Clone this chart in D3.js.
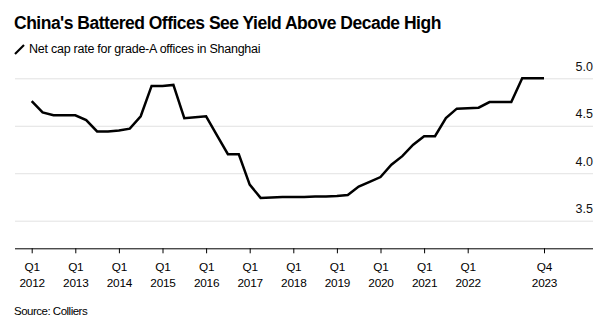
<!DOCTYPE html>
<html>
<head>
<meta charset="utf-8">
<script src="https://cdn.jsdelivr.net/npm/d3@7"></script>
<style>
  html, body { margin: 0; padding: 0; background: #fff; }
  text { font-family: "Liberation Sans", Arial, sans-serif; }
</style>
</head>
<body>
<svg id="chart" width="606" height="335"></svg>
<script>
const quarters = [];
for (let yr = 2012; yr <= 2023; yr++) for (let q = 1; q <= 4; q++) quarters.push("Q" + q + " " + yr);

const capRate = [
  4.76, 4.64, 4.61, 4.61,
  4.61, 4.56, 4.44, 4.44,
  4.45, 4.47, 4.60, 4.92,
  4.92, 4.93, 4.58, 4.59,
  4.60, 4.40, 4.20, 4.20,
  3.88, 3.74, 3.745, 3.75,
  3.75, 3.75, 3.755, 3.755,
  3.76, 3.77, 3.86, 3.91,
  3.96, 4.09, 4.18, 4.30,
  4.39, 4.39, 4.58, 4.68,
  4.685, 4.69, 4.75, 4.75,
  4.75, 5.00, 5.00, 5.00
];

const xTickLabels = ["Q1 2012","Q1 2013","Q1 2014","Q1 2015","Q1 2016","Q1 2017","Q1 2018","Q1 2019","Q1 2020","Q1 2021","Q1 2022","Q4 2023"];
const yTicks = [3.5, 4.0, 4.5, 5.0];

const title = "China's Battered Offices See Yield Above Decade High";
const subtitle = "Net cap rate for grade-A offices in Shanghai";
const source = "Source: Colliers";

const svg = d3.select("#chart");

const x = d3.scalePoint().domain(quarters).range([31.7, 544]);
const y = d3.scaleLinear().domain([3.5, 5.0]).range([220.7, 78.3]);
const axisY = 248.3;
const left = 15, right = 593;

// Title
svg.append("text").attr("x", 14).attr("y", 29.3)
  .attr("font-size", 17.5).attr("font-weight", "bold").attr("fill", "#000")
  .attr("letter-spacing", -0.5)
  .text(title);

// Legend icon + subtitle
svg.append("line").attr("x1", 15).attr("y1", 54).attr("x2", 24).attr("y2", 45)
  .attr("stroke", "#000").attr("stroke-width", 2.2);
svg.append("text").attr("x", 29).attr("y", 53.3)
  .attr("font-size", 12.5).attr("letter-spacing", -0.25).attr("fill", "#000").text(subtitle);

// Gridlines and y labels
const yAxis = d3.axisRight(y).tickValues(yTicks).tickSize(right - left)
  .tickFormat(d3.format(".1f"));
const gy = svg.append("g").attr("transform", `translate(${left},0)`).call(yAxis);
gy.select(".domain").remove();
gy.selectAll(".tick line").attr("stroke", "#e2e2e2").attr("stroke-width", 1);
gy.selectAll(".tick text")
  .attr("x", right - left).attr("dy", -8).attr("text-anchor", "end")
  .attr("font-size", 12.5).attr("fill", "#111").attr("font-family", "Liberation Sans, Arial, sans-serif");

// X axis
const xAxis = d3.axisBottom(x).tickValues(xTickLabels).tickSize(5).tickSizeOuter(0).tickFormat("");
const gx = svg.append("g").attr("transform", `translate(0,${axisY})`).call(xAxis);
gx.select(".domain").attr("d", `M${left},0.5H${right}`).attr("stroke", "#000");
gx.selectAll(".tick line").attr("stroke", "#000");
gx.selectAll(".tick").each(function(d) {
  const parts = d.split(" ");
  const t = d3.select(this).append("text").attr("text-anchor", "middle")
    .attr("fill", "#000").attr("font-size", 11.8).attr("letter-spacing", -0.2)
    .attr("font-family", "Liberation Sans, Arial, sans-serif");
  t.append("tspan").attr("x", 0).attr("y", 270.7 - axisY).text(parts[0]);
  t.append("tspan").attr("x", 0).attr("y", 287.3 - axisY).text(parts[1]);
});

// Line
const line = d3.line().x((d, i) => x(quarters[i])).y(d => y(d));
svg.append("path").datum(capRate).attr("d", line)
  .attr("fill", "none").attr("stroke", "#000").attr("stroke-width", 2.5)
  .attr("stroke-linejoin", "miter");

// Source
svg.append("text").attr("x", 14).attr("y", 315).attr("font-size", 11.5)
  .attr("letter-spacing", -0.5).attr("fill", "#000").text(source);
</script>
</body>
</html>
